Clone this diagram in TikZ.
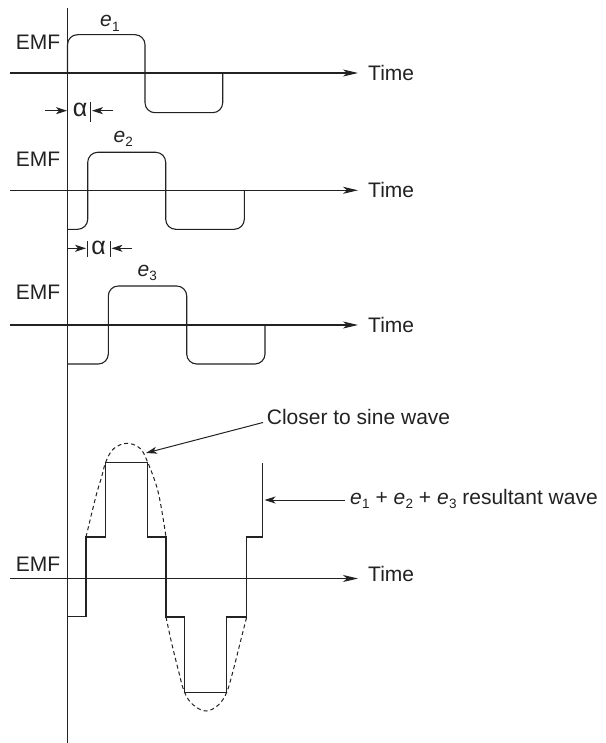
\documentclass[tikz,border=0pt]{standalone}
\usepackage{fontspec}
\setmainfont{Liberation Sans}
\usetikzlibrary{arrows.meta}
\definecolor{ink}{HTML}{222222}
\newcommand\esub[1]{\textit{e}\kern0.3pt\raisebox{-4.5pt}{\fontsize{13.5}{14}\selectfont #1}}
\begin{document}
\begin{tikzpicture}[x=1pt,y=-1pt,
  every node/.style={inner sep=0pt, text=ink, font=\fontsize{21}{25}\selectfont},
  alpha/.style={font=\fontsize{25}{28}\selectfont},
  axisline/.style={line width=1.1pt, draw=ink},
  timearrow/.style={line width=1.1pt, draw=ink, -{Stealth[length=15pt,width=7pt,inset=4pt]}},
  smallarrow/.style={line width=1pt, draw=ink, -{Stealth[length=11pt,width=7pt,inset=3pt]}},
  wave/.style={line width=1.1pt, draw=ink, rounded corners=10pt},
  stair/.style={line width=1.1pt, draw=ink},
  dashcurve/.style={line width=1pt, draw=ink, dash pattern=on 4pt off 3pt}]
\useasboundingbox[fill=white] (0,0) rectangle (605,743);

% vertical axis
\coordinate (vtop) at (67.5,8);
\coordinate (vbot) at (67.5,743);
\draw[axisline] (vtop) -- (vbot);

% horizontal time axes
\foreach \n/\y/\b in {1/73/80.5, 2/190.3/197.5, 3/325/332, 4/578.5/581}{
  \coordinate (a\n) at (10,\y);
  \coordinate (b\n) at (358,\y);
  \draw[timearrow] (a\n) -- (b\n);
  \node[anchor=base west] (time\n) at (368,\b) {Time};
}

% EMF labels
\node[anchor=base east] (emf1) at (60.5,50) {EMF};
\node[anchor=base east] (emf2) at (60.5,166.5) {EMF};
\node[anchor=base east] (emf3) at (60.5,299.5) {EMF};
\node[anchor=base east] (emf4) at (60.5,571.5) {EMF};

% e labels
\node[anchor=base west] (e1) at (100,27) {\esub{1}};
\node[anchor=base west] (e2) at (113.3,142.5) {\esub{2}};
\node[anchor=base west] (e3) at (137.3,276) {\esub{3}};

% waves
\draw[wave] (67.5,73) -- (67.5,34.7) -- (145,34.7) -- (145,112.7) -- (222.7,112.7) -- (222.7,73);
\draw[wave] (67.5,229.3) -- (87.7,229.3) -- (87.7,152.3) -- (165.7,152.3) -- (165.7,229.3) -- (244.3,229.3) -- (244.3,190.3);
\draw[wave] (67.5,364) -- (108.3,364) -- (108.3,286) -- (186.7,286) -- (186.7,364) -- (265,364) -- (265,325);

% alpha marker 1
\coordinate (m1l) at (45,110.7);
\coordinate (m1lt) at (67,110.7);
\coordinate (m1r) at (113.3,110.7);
\coordinate (m1rt) at (92,110.7);
\draw[smallarrow] (m1l) -- (m1lt);
\draw[smallarrow] (m1r) -- (m1rt);
\draw[axisline, line width=1pt] (90.7,101.7) -- (90.7,121.7);
\node[alpha] (al1) at (80,110) {α};

% alpha marker 2
\coordinate (m2l) at (67.5,248.3);
\coordinate (m2lt) at (86,248.3);
\coordinate (m2r) at (132.3,248.3);
\coordinate (m2rt) at (111.5,248.3);
\draw[smallarrow] (m2l) -- (m2lt);
\draw[smallarrow] (m2r) -- (m2rt);
\draw[axisline, line width=1pt] (87.5,241) -- (87.5,257);
\draw[axisline, line width=1pt] (110,241) -- (110,257);
\node[alpha] (al2) at (98.7,247.5) {α};

% resultant staircase
\draw[stair] (67.5,616.7) -- (86,616.7) -- (86,537) -- (105.7,537) -- (105.7,462.3) -- (147.7,462.3) -- (147.7,537) -- (166,537) -- (166,617) -- (184.5,617) -- (184.5,692.3) -- (226.7,692.3) -- (226.7,617) -- (246.7,617) -- (246.7,537) -- (262.7,537) -- (262.7,462.5);

% dashed sine envelope
\draw[dashcurve] plot[smooth, tension=0.6] coordinates {(86,537) (91.7,513.3) (96.7,493.3) (101.7,476.7) (105.7,462.3) (113.3,449) (126.7,443.3) (140,448.3) (147.7,462.3) (156.7,486.7) (161.7,510) (166,537)};
\draw[dashcurve] plot[smooth, tension=0.6] coordinates {(166,617) (171.7,643.3) (178.3,670) (184.5,692.3) (193.3,705) (206,711) (218.3,705) (226.7,692.3) (233.3,670) (240,643.3) (246.7,617)};

% annotations
\node[anchor=base west] (closer) at (266.7,424.5) {Closer to sine wave};
\coordinate (closertip) at (146,453);
\draw[smallarrow] (263,422.5) -- (closertip);

\node[anchor=base west] (res) at (350,504) {\esub{1} + \esub{2} + \esub{3} resultant wave};
\coordinate (restip) at (264.5,500);
\coordinate (restail) at (345,500);
\draw[smallarrow] (restail) -- (restip);
\end{tikzpicture}
\end{document}
